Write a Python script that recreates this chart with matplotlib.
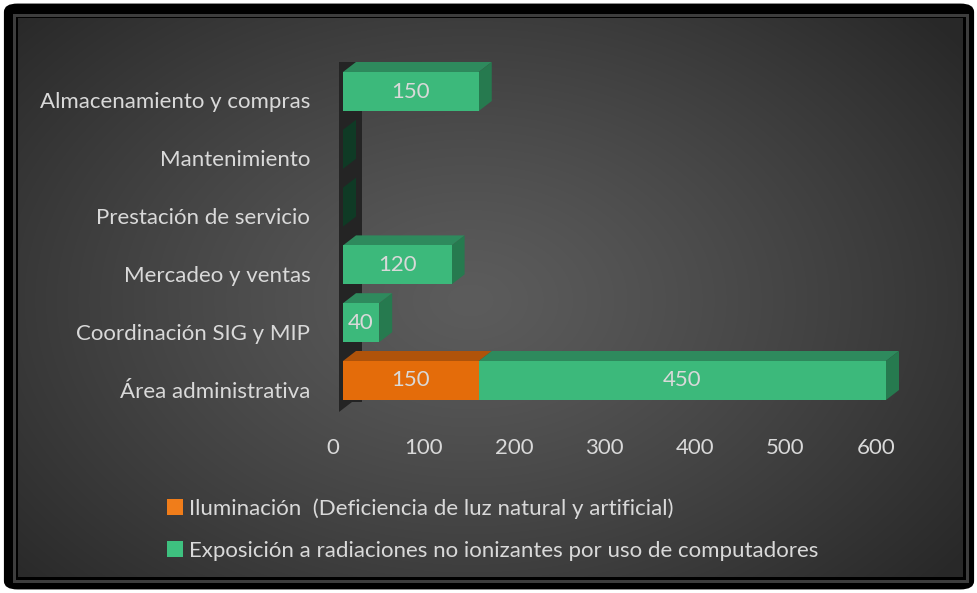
import numpy as np
import matplotlib
matplotlib.use("Agg")
import matplotlib.pyplot as plt
from matplotlib.patches import Polygon, Rectangle, FancyBboxPatch, Patch
from matplotlib.transforms import ScaledTranslation

plt.rcParams['font.family'] = ['Lato', 'DejaVu Sans']

# ---------------- data ----------------
categories = ['Área administrativa', 'Coordinación SIG y MIP', 'Mercadeo y ventas',
              'Prestación de servicio', 'Mantenimiento', 'Almacenamiento y compras']
iluminacion = [150, 0, 0, 0, 0, 0]
exposicion = [450, 40, 120, 0, 0, 150]
series_names = ['Iluminación  (Deficiencia de luz natural y artificial)',
                'Exposición a radiaciones no ionizantes por uso de computadores']
x_ticks = [0, 100, 200, 300, 400, 500, 600]

# ---------------- style ----------------
W, H, DPI = 978, 593, 100
TXT = '#d9d9d9'
FS = 16.0
front_cols = ['#e46c0a', '#3cb97b']
top_cols = ['#b0530a', '#2e8a5d']
side_cols = ['#8c4208', '#267a4f']
zero_side = '#0f3a25'

fig = plt.figure(figsize=(W / DPI, H / DPI), dpi=DPI, facecolor='white')

def fx(px):
    return px / W

def fy(py):
    return 1 - py / H

# outer black frame
frame = FancyBboxPatch((0.004, 0.006), 0.992, 0.988, boxstyle='round,pad=0,rounding_size=0.014',
                       transform=fig.transFigure, facecolor='black', edgecolor='none', zorder=0)
fig.patches.append(frame)
# gray inner line
fig.patches.append(Rectangle((fx(14.5), fy(581)), fx(967.5 - 14.5), (581 - 14.5) / H,
                             transform=fig.transFigure, facecolor='none', edgecolor='#3d3d3d',
                             linewidth=3 * 72 / DPI, zorder=1))

# background gradient
bg = fig.add_axes([fx(18), fy(577), fx(963 - 18), (577 - 18) / H], zorder=0.5)
bx0, bx1, by0, by1 = 18, 963, 18, 577
xx, yy = np.meshgrid(np.arange(bx0, bx1), np.arange(by0, by1))
r = np.sqrt(((xx - 470) / 620) ** 2 + ((yy - 300) / 430) ** 2)
val = 92 - 52 * np.clip(r, 0, 1) ** 1.2
img = np.dstack([val, val, val]) / 255.0
bg.imshow(img, aspect='auto', interpolation='bilinear')
bg.set_axis_off()

# main axes
y_pos = np.arange(len(categories))
ylim = (-0.6, 5.6)
px_per_cat = 57.8
ax_h = (ylim[1] - ylim[0]) * px_per_cat
ax_bottom_px = 380.5 + (0 - ylim[0]) * px_per_cat
ax = fig.add_axes([fx(343), fy(ax_bottom_px), fx(886 - 343), ax_h / H], zorder=2)
ax.set_facecolor('none')
ax.set_xlim(0, 600)
ax.set_ylim(*ylim)
for s in ax.spines.values():
    s.set_visible(False)

px_per_unit = (886 - 343) / 600
dx = 13 / px_per_unit
dy = 10 / px_per_cat
h = 0.675

# left wall
yb = (380.5 - 412) / px_per_cat
yt = (380.5 - 62) / px_per_cat
x0 = -4 / px_per_unit
x1 = 19 / px_per_unit
wall = Polygon([(x0, yb), (x0, yt), (x1, yt), (x1, yb + dy), (x0 + dx, yb + dy)], closed=True,
               facecolor='#242424', edgecolor='none', zorder=1, clip_on=False)
ax.add_patch(wall)

lefts = np.zeros(len(categories))
all_series = [iluminacion, exposicion]
for si, vals in enumerate(all_series):
    vals = np.array(vals, dtype=float)
    z = 3 + si * 3
    for yi, (l, w) in enumerate(zip(lefts, vals)):
        if w <= 0 and si < len(all_series) - 1:
            continue
        ytop = yi + h / 2
        ybot = yi - h / 2
        top = Polygon([(l, ytop), (l + w, ytop), (l + w + dx, ytop + dy), (l + dx, ytop + dy)],
                      closed=True, facecolor=top_cols[si], edgecolor='none', zorder=z, clip_on=False)
        side = Polygon([(l + w, ybot), (l + w + dx, ybot + dy), (l + w + dx, ytop + dy), (l + w, ytop)],
                       closed=True, facecolor=side_cols[si] if w > 0 else zero_side,
                       edgecolor='none', zorder=z + 1, clip_on=False)
        ax.add_patch(top)
        ax.add_patch(side)
    ax.barh(y_pos, vals, left=lefts, height=h, color=front_cols[si], zorder=z + 2, clip_on=False)
    for yi, (l, w) in enumerate(zip(lefts, vals)):
        if w > 0:
            ax.text(l + w / 2, yi, f'{int(w)}', ha='center', va='center', color=TXT,
                    fontsize=FS, zorder=10)
    lefts = lefts + vals

ax.set_yticks(y_pos)
ax.set_yticklabels(categories)
ax.set_xticks(x_ticks)
ax.set_xticklabels([str(t) for t in x_ticks])
ax.tick_params(axis='both', length=0, colors=TXT, labelsize=FS)
ax.tick_params(axis='y', pad=23.5)
ax.tick_params(axis='x', pad=16.5)
for lab in ax.get_xticklabels():
    lab.set_transform(lab.get_transform() + ScaledTranslation(-10 / DPI, 0, fig.dpi_scale_trans))
for lab in ax.get_yticklabels():
    lab.set_transform(lab.get_transform() + ScaledTranslation(0, -9 / DPI, fig.dpi_scale_trans))

# legend
handles = [Patch(facecolor='#f07d1a', edgecolor='none'), Patch(facecolor='#3ec07f', edgecolor='none')]
leg = fig.legend(handles, series_names, loc='upper left', bbox_to_anchor=(fx(167), fy(498)),
                 frameon=False, fontsize=FS, labelcolor=TXT, handlelength=0.72, handleheight=0.72,
                 handletextpad=0.25, labelspacing=1.0, borderaxespad=0, borderpad=0)
leg.set_zorder(5)

fig.savefig('out.png', dpi=DPI, facecolor=fig.get_facecolor())
